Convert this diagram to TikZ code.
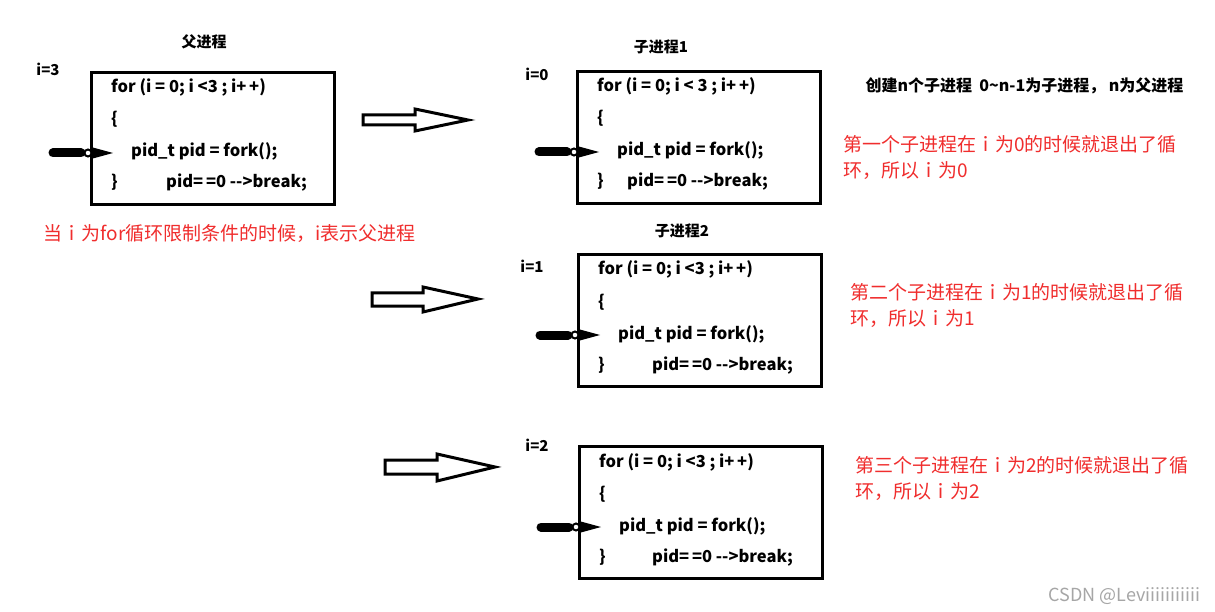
\documentclass[tikz,border=0pt]{standalone}
\usepackage{fontspec}
\setmainfont{Noto Sans CJK SC}
\definecolor{notered}{RGB}{240,45,45}
\tikzset{
    codebox/.style={draw, line width=3pt, anchor=north west, minimum width=243pt, minimum height=132pt, inner sep=0pt},
    code/.style={anchor=west, inner sep=0pt, text height=12pt, text depth=4pt, font=\bfseries\fontsize{16.5}{18}\selectfont},
    title/.style={font=\bfseries\fontsize{15}{18}\selectfont},
    note/.style={anchor=north west, align=left, text=notered, inner sep=0pt, font=\fontsize{19}{26}\selectfont},
    hollow/.style={draw, line width=3pt, fill=white, line join=miter},
    forkbar/.style={line width=9pt, line cap=round},
}
% box, name / x / y / condition / indent of the break line
\newcommand\forkbox[5]{%
    \node[codebox] (#1) at (#2,#3) {};
    \node[code] (#1for) at (#2+21,#3+18) {for (i = 0; i #4; i+\,+)};
    \node[code] (#1open) at (#2+21,#3+50) {\{};
    \node[code] (#1pid) at (#2+41,#3+82) {pid\_t pid = fork();};
    \node[code] (#1close) at (#2+21,#3+113) {\}};
    \node[code] (#1break) at (#2+#5,#3+113) {pid=\,=0 -{}->break;};
    \draw[forkbar] ([xshift=-78pt]#1pid.west) -- ([xshift=-50pt]#1pid.west);
    \fill ([xshift=-40pt,yshift=6pt]#1pid.west) -- ([xshift=-18pt]#1pid.west) -- ([xshift=-40pt,yshift=-6pt]#1pid.west) -- cycle;
    \draw[line width=2pt, fill=white] ([xshift=-43pt]#1pid.west) circle (3.5);
}
\begin{document}
\begin{tikzpicture}[x=1pt, y=-1pt]
    \fill[white] (0,0) rectangle (1215,612);
    \useasboundingbox (0,0) rectangle (1215,612);

    \node[title] (ptitle) at (204,42) {父进程};
    \node[title] (c1title) at (661,47) {子进程1};
    \node[title] (c2title) at (682,231) {子进程2};
    \node[title] (pi) at (48,69) {i=3};
    \node[title] (c1i) at (537,74) {i=0};
    \node[title] (c2i) at (532,266) {i=1};
    \node[title] (c3i) at (537,445) {i=2};

    \forkbox{pbox}{90}{71}{<3 }{76}
    \forkbox{cbox1}{576}{70}{< 3 }{51}
    \forkbox{cbox2}{577}{253}{<3 }{75}
    \forkbox{cbox3}{578}{445}{<3 }{74}

    % hollow arrows
    \draw[hollow] (363,115) -- (415,115) -- (415,109) -- (468,120) -- (415,131) -- (415,125) -- (363,125) -- cycle;
    \draw[hollow] (372,293) -- (423,293) -- (423,287) -- (478,299) -- (423,312) -- (423,306) -- (372,306) -- cycle;
    \draw[hollow] (385,460) -- (437,460) -- (437,454) -- (495,467) -- (437,481) -- (437,474) -- (385,474) -- cycle;

    \node[anchor=west, font=\bfseries\fontsize{16}{18}\selectfont] (rule) at (862,86) {创建n个子进程\ \ 0\textasciitilde n-1为子进程，\ n为父进程};
    \node[anchor=west, text=notered, font=\fontsize{19}{26}\selectfont] (pnote) at (40,233) {当ｉ为for循环限制条件的时候，i表示父进程};
    \node[note] (c1note) at (843,135) {第一个子进程在ｉ为0的时候就退出了循\\环，所以ｉ为0};
    \node[note] (c2note) at (850,283) {第二个子进程在ｉ为1的时候就退出了循\\环，所以ｉ为1};
    \node[note] (c3note) at (855,456) {第三个子进程在ｉ为2的时候就退出了循\\环，所以ｉ为2};
    \node[anchor=west, text=gray!70, font=\fontsize{18}{20}\selectfont] (mark) at (1045,596) {CSDN @Leviiiiiiiiiii};
\end{tikzpicture}
\end{document}
